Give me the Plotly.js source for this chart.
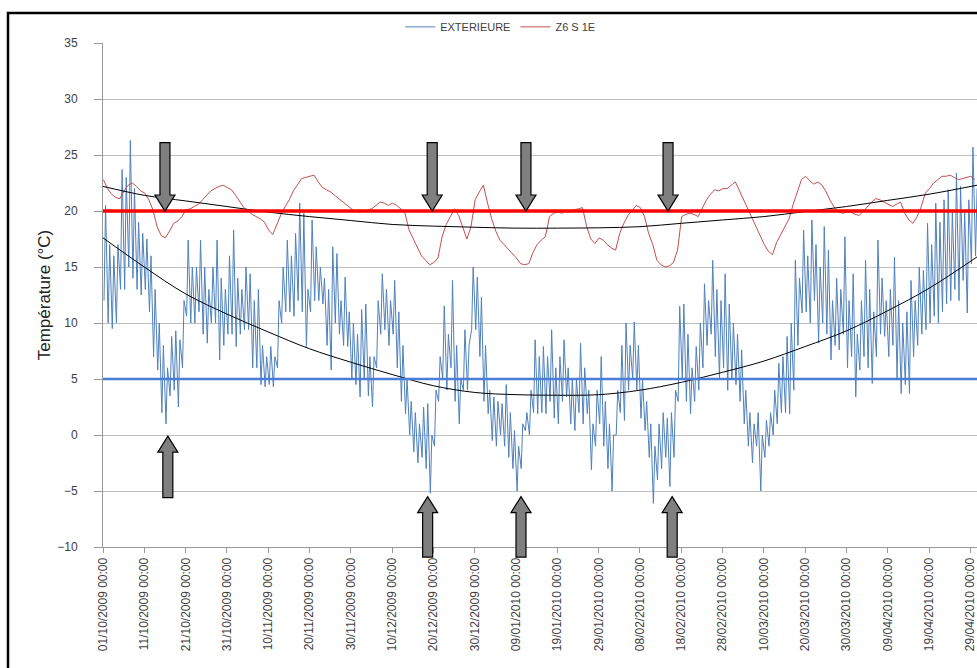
<!DOCTYPE html>
<html>
<head>
<meta charset="utf-8">
<script src="https://cdn.plot.ly/plotly-3.0.1.min.js"></script>
<style>html,body{margin:0;padding:0;background:#fff;}#chart{width:977px;height:668px;}</style>
</head>
<body>
<div id="chart"></div>
<script>
// Daily outdoor maxima / minima (EXTERIEURE), starting 01/10/2009
const extHigh = [20.5,17,16,17,23.7,23,26.3,22,19,18,17.5,16,13,10,8,6,8.8,9.3,8.5,12,17.4,15,15,17.4,15,13,15,17.4,14,13,16,18.3,14,13,15,14.4,
12,13,8,7,7.9,7,12,15,17.4,16,18,20.7,19.8,13,19.2,16.8,15,14,13,16.8,16.2,12,14.1,11,10,9,11.2,11.7,7,7,12,14.4,13,12,13.8,
11,8,5,3,2,1,2.5,2.8,0,4,7,11.5,9,13.8,8,5,9.4,8,15,14.1,12.3,8,4,3.4,3,2.8,4.5,2,0.4,-1,1,2,4,8.5,7,
7.9,7,9.4,6,7,8.5,6,5,5,8.2,6,4,1,4,7,3,1,0,4,8,10,8,10.1,8,5,3,1,-1,1,2,1.5,2,4,11.5,
11.7,9,6,7.9,10,13.5,12,15.6,13,12,14.4,11.7,10,9,7.6,4,2,1,2,0,1.3,2,4,6.4,7,8.8,10,15.6,14,18.3,16,19.2,17,15,18.6,
16.5,12,14,13,17.7,12,14.4,9,12,15.6,13,11,17.4,14,12,13,15.9,12,10,11,13.8,12,15,14.7,18.9,17,20.7,19,21,21.9,20,23.4,22.2,20,21,25.7,22];
const extLow = [12,10,9.5,10,13,13,15,14,13,12.5,13,11,7,5.8,2,1,3.5,4,2.5,6,10.6,10,10,11,9,8.2,10,10,6.7,8,9,9,7.9,9,9.4,9.4,
6,6,4.5,4.3,4.5,4.3,6,10,11,11,10.6,12,11,7.9,11,12,12,11.7,8,5.8,10,9,8,7.9,5,4.5,3.4,5,3.5,2.5,6,9,9.4,8,9,
6,3,1.9,0,-1.5,-2.5,-2,-3,-5.2,-1,3,5,4,6,3,1,4,4,9.4,9.4,7,3,1.9,-0.5,-1,0,-1,-2,-3,-5,-3,0.4,0,2,1.9,
2,1.9,3,1.5,1,3,3.4,1,0.4,2,1,1.9,-3.1,-1,1,-1,-3,-5,0,2,1.3,4,5,4,1.5,0.4,-2,-6.1,-4,-3,-2,-4.6,-2,3,
5,3,1.9,3,4,6,8,9,7,5,6,4,5,4.5,3,1,-1,-2.5,-1,-5,-2,-1,0,1,2,2,1.9,4,8,10.9,11,10,12,8.2,10,
9,6.7,8,7.6,9,6,7,3.4,5.8,7,6,4.6,7,9,8.8,7,8,5,3.7,4.5,3.7,7,8,9,9.4,10,10.6,10,11,11.7,12,13,12,13.8,10.9,15.3,16];
// Daily indoor temperature (Z6 S 1E)
const inside = [22.8,22.0,21.5,21.2,21.1,21.8,22.3,22.5,22.2,21.8,
21.6,21.0,20.1,18.6,17.8,17.6,18.2,18.9,19.1,19.5,
20.1,20.2,20.4,20.6,21.0,21.4,21.8,22.0,22.2,22.3,
22.1,21.9,21.4,20.8,20.3,20.0,19.7,19.5,19.3,19.0,
18.3,17.9,18.8,19.7,20.4,21.0,21.8,22.4,22.9,23.0,
23.1,23.2,22.6,22.1,21.9,21.7,21.4,21.1,20.8,20.5,
20.2,20.0,19.9,20.0,20.1,20.2,20.5,20.8,20.7,20.5,
20.7,20.5,20.2,19.8,18.3,17.5,16.8,16.0,15.6,15.2,
15.4,15.8,17.7,18.8,19.5,20.2,19.6,18.5,17.5,18.6,
21.0,21.7,22.3,20.7,19.3,18.2,17.4,17.0,16.6,16.2,
15.8,15.3,15.2,15.3,16.3,17.0,17.4,17.7,19.5,19.8,
19.9,19.8,20.0,19.9,20.1,20.2,20.3,18.6,17.5,17.1,
17.6,17.4,17.0,16.7,16.5,18.0,18.9,19.6,20.1,20.5,
20.3,19.5,18.0,17.0,15.6,15.2,15.0,15.1,15.4,16.5,
19.5,19.7,19.8,19.7,19.5,20.3,21.0,21.5,21.9,21.8,
22.0,22.0,22.3,22.6,21.8,21.0,20.2,19.4,18.6,17.8,
17.0,16.4,16.1,17.2,17.9,18.7,19.3,20.6,21.8,22.8,
23.1,22.7,22.4,22.6,22.3,21.7,20.9,20.3,19.9,19.8,
19.9,19.9,19.7,19.6,20.0,20.4,20.8,21.1,21.0,20.8,
20.6,20.4,20.6,20.8,19.8,19.2,18.9,19.5,20.4,21.6,
22.0,22.5,22.8,23.1,23.1,23.2,23.0,22.8,22.9,23.0,
23.1,22.8];
// Trend curves, day offsets from 01/10/2009
const trendDays = [0,10,20,30,40,50,60,70,80,90,100,110,120,130,140,150,160,170,180,190,200,211.6];
const trendExt = [17.6,15.0,12.6,10.8,9.2,7.7,6.5,5.4,4.4,3.8,3.6,3.55,3.6,4.0,4.7,5.6,6.6,7.9,9.3,11.1,13.1,15.9];
const trendIn = [22.2,21.4,20.9,20.4,19.9,19.5,19.15,18.8,18.65,18.55,18.47,18.47,18.5,18.6,18.9,19.2,19.5,19.95,20.4,20.95,21.5,22.3];
// Threshold lines
const thresholdIn = 20, thresholdExt = 5;
// Arrows: day, tip value, tail value
const arrowDays = [15.0, 79.7, 102.4, 136.8, 15.7, 78.6, 101.2, 137.8];
const arrowTips = [20, 20, 20, 20, -0.1, -5.5, -5.5, -5.5];
const arrowTails = [26.1, 26.1, 26.1, 26.1, -5.6, -10.9, -10.9, -10.9];

const DAY = 86400000;
const T0 = Date.UTC(2009, 9, 1);
const xEnd = 211.6;
const d2t = d => T0 + d * DAY;

const bx = [], by = [];
for (let d = 0; d < extHigh.length; d++) {
  bx.push(d2t(d + 0.25)); by.push(extLow[d]);
  bx.push(d2t(d + 0.62)); by.push(extHigh[d]);
}
const rx = inside.map((v, i) => d2t(i + 0.1));
const tx = trendDays.map(d2t);

const traces = [
  {x: bx, y: by, type: 'scatter', mode: 'lines', name: 'EXTERIEURE', line: {color: '#4F81BD', width: 1}},
  {x: rx, y: inside, type: 'scatter', mode: 'lines', name: 'Z6 S 1E', line: {color: '#C0504D', width: 1}},
  {x: tx, y: trendExt, type: 'scatter', mode: 'lines', showlegend: false, line: {color: '#000', width: 1, shape: 'spline'}},
  {x: tx, y: trendIn, type: 'scatter', mode: 'lines', showlegend: false, line: {color: '#000', width: 1, shape: 'spline'}}
];

const W = 874, H = 504;
const px = d => d / xEnd;
const py = v => (v + 10) / 45;
const shapes = [
  {type: 'line', xref: 'paper', yref: 'y', x0: 0, x1: 1, y0: thresholdIn, y1: thresholdIn, line: {color: '#FF0000', width: 3.5}, layer: 'above'},
  {type: 'line', xref: 'paper', yref: 'y', x0: 0, x1: 1, y0: thresholdExt, y1: thresholdExt, line: {color: '#4A7DD6', width: 2.5}, layer: 'above'},
  {type: 'rect', xref: 'paper', yref: 'paper', x0: (8 - 103) / W, x1: (1000 - 103) / W, y0: (547 - 720) / H, y1: (547 - 13) / H, line: {color: '#000', width: 2.5}, fillcolor: 'rgba(0,0,0,0)', layer: 'above'}
];
const hs = 5 / W, hh = 10 / W, hl = 16 / H;
for (let i = 0; i < arrowDays.length; i++) {
  const xc = px(arrowDays[i]);
  const yt = py(arrowTips[i]), yb = py(arrowTails[i]);
  const dir = yb > yt ? 1 : -1;
  const yn = yt + dir * hl;
  const p = `M ${xc - hs},${yb} L ${xc + hs},${yb} L ${xc + hs},${yn} L ${xc + hh},${yn} L ${xc},${yt} L ${xc - hh},${yn} L ${xc - hs},${yn} Z`;
  shapes.push({type: 'path', xref: 'paper', yref: 'paper', path: p, fillcolor: '#7F7F7F', line: {color: '#000', width: 1.2}, layer: 'above'});
}

const layout = {
  width: 977, height: 668,
  margin: {l: 103, r: 0, t: 43, b: 121},
  paper_bgcolor: '#fff', plot_bgcolor: '#fff',
  font: {family: 'Liberation Sans, Arial, sans-serif', color: '#404040'},
  showlegend: true,
  legend: {orientation: 'h', x: 0.455, xanchor: 'center', y: 1.032, yanchor: 'middle', font: {size: 11, color: '#404040'}, itemwidth: 30, bgcolor: 'rgba(0,0,0,0)'},
  xaxis: {
    type: 'date', range: [d2t(0), d2t(xEnd)], tick0: d2t(0), dtick: 10 * DAY,
    tickformat: '%d/%m/%Y %H:%M', tickangle: -90, tickfont: {size: 12, color: '#404040', family: 'Liberation Sans, Arial'},
    ticklabeloverflow: 'allow',
    ticks: 'outside', ticklen: 5, tickcolor: '#999', showgrid: false, showline: true, linecolor: '#999', linewidth: 1, zeroline: false
  },
  yaxis: {
    range: [-10, 35], dtick: 5, tick0: -10, ticks: 'outside', ticklen: 8, tickcolor: '#999', ticklabelstandoff: 14,
    tickfont: {size: 12, color: '#404040'}, showgrid: true, gridcolor: '#BFBFBF', gridwidth: 1,
    showline: true, linecolor: '#999', zeroline: false,
    title: {text: 'Température (°C)', font: {size: 17, color: '#222'}, standoff: 2}
  },
  shapes: shapes
};
Plotly.newPlot('chart', traces, layout, {displayModeBar: false, staticPlot: true});
</script>
</body>
</html>
